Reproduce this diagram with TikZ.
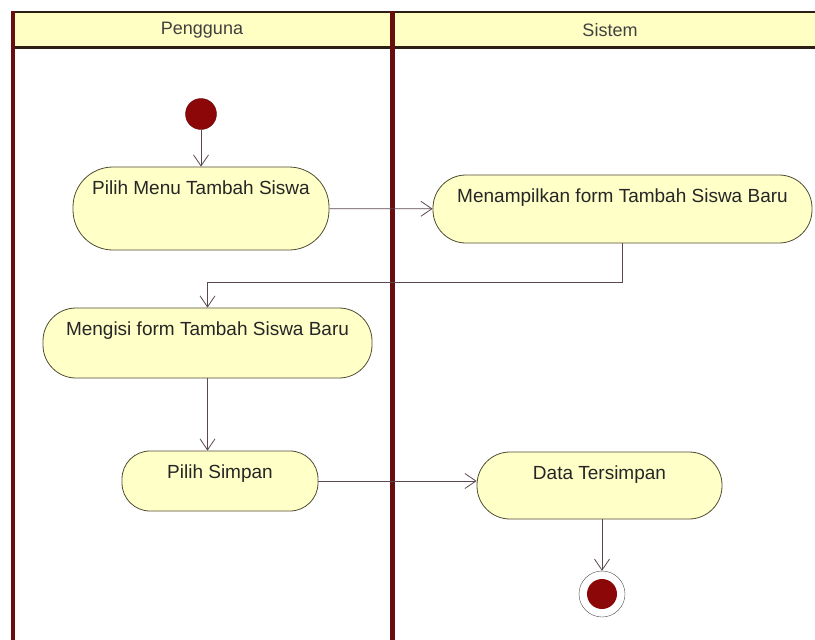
\documentclass[tikz,border=0pt]{standalone}
\usepackage{fontspec}
\setmainfont{Liberation Sans}
\usetikzlibrary{arrows.meta,positioning,calc}

\definecolor{laneline}{RGB}{104,14,14}
\definecolor{headline}{RGB}{45,30,20}
\definecolor{headfill}{RGB}{255,255,196}
\definecolor{actfill}{RGB}{255,255,200}
\definecolor{actline}{RGB}{80,76,50}
\definecolor{flowline}{RGB}{92,72,82}
\definecolor{dotred}{RGB}{140,8,8}

\begin{document}
\begin{tikzpicture}[x=1pt,y=-1pt,>={Straight Barb[length=11pt,width=15pt]},font=\fontsize{19}{23}\selectfont]
  \tikzstyle{act}=[draw=actline,thick,fill=actfill,rectangle,rounded corners=33pt,inner sep=0pt,text height=27pt,text=black!85,align=center]
  \tikzstyle{flow}=[->,flowline,thick]
  \tikzstyle{lanehead}=[text=black!75,font=\fontsize{18}{22}\selectfont]
  \useasboundingbox (0,0) rectangle (815,640);

  % swimlanes
  \begin{scope}
    \clip (0,0) rectangle (815,640);
    \fill[white] (0,0) rectangle (815,640);
    \fill[headfill] (12,12) rectangle (840,47);
    \draw[headline,line width=2pt] (12,12) -- (840,12);
    \draw[headline,line width=3pt] (12,47) -- (840,47);
    \draw[laneline,line width=4pt] (13,11) -- (13,660);
    \draw[laneline,line width=5pt] (392,11) -- (392,660);
  \end{scope}
  \node[lanehead] (pengguna) at (202,30) {Pengguna};
  \node[lanehead] (sistem) at (610,30) {Sistem};

  % activities
  \node[circle,fill=dotred,draw=dotred!70!black,minimum size=31pt,inner sep=0pt] (start) at (201,114) {};
  \node[act,minimum width=256pt,minimum height=83pt,text depth=56pt,rounded corners=40pt] (menu) at (201,208.5) {Pilih Menu Tambah Siswa};
  \node[act,minimum width=379pt,minimum height=68pt,text depth=41pt] (tampil) at (622.5,209) {Menampilkan form Tambah Siswa Baru};
  \node[act,minimum width=329pt,minimum height=70pt,text depth=43pt] (isi) at (207.5,343) {Mengisi form Tambah Siswa Baru};
  \node[act,minimum width=196pt,minimum height=58pt,text depth=33pt,rounded corners=28pt] (simpan) at (220,481) {Pilih Simpan};
  \node[act,minimum width=245pt,minimum height=67pt,text depth=40pt] (tersimpan) at (599.5,485.5) {Data Tersimpan};
  \node[circle,draw=black!70,fill=white,minimum size=46pt,inner sep=0pt,
        path picture={\fill[dotred] (path picture bounding box.center) circle (15pt);}] (end) at (602,594) {};

  % flows
  \draw[flow] (start) -- (menu);
  \draw[flow] (menu) -- (tampil);
  \draw[flow] (tampil.south) -- ++(0,39) -| (isi.north);
  \draw[flow] (isi.south) -- (isi.south |- simpan.north);
  \draw[flow] (simpan.east) -- (simpan.east -| tersimpan.west);
  \draw[flow] (tersimpan.south -| end) -- (end);
\end{tikzpicture}
\end{document}
